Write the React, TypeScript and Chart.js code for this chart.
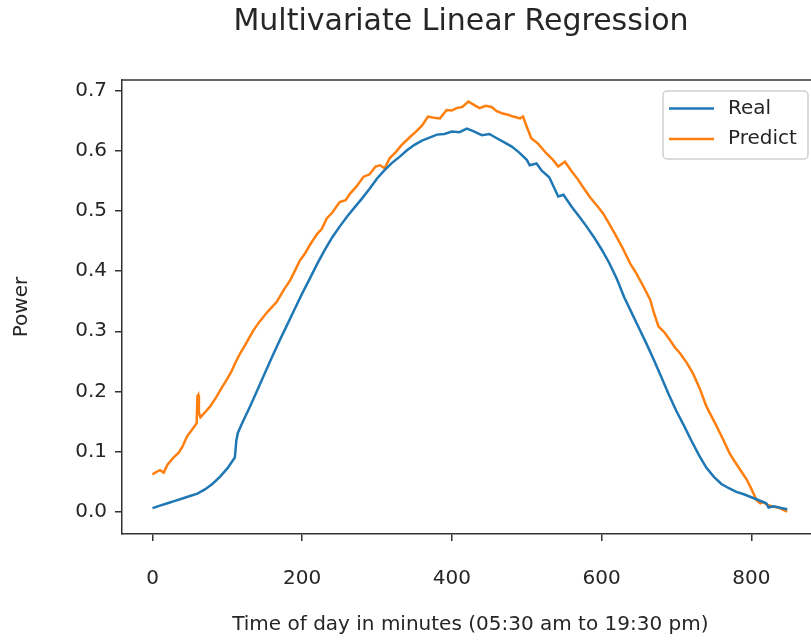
import React, { useEffect, useRef } from "react";
import { Chart, registerables } from "chart.js";

Chart.register(...registerables);

const TITLE = "Multivariate Linear Regression";
const X_LABEL = "Time of day in minutes (05:30 am to 19:30 pm)";
const Y_LABEL = "Power";
const SERIES_NAMES = ["Real", "Predict"];
const X_TICKS = [0, 200, 400, 600, 800];
const Y_TICKS = [0, 0.1, 0.2, 0.3, 0.4, 0.5, 0.6, 0.7];

const REAL_X = [
  0, 10, 20, 30, 40, 50, 60, 70, 80, 90, 100, 110, 112, 114, 120, 130, 140, 150, 160, 170,
  180, 190, 200, 210, 220, 230, 240, 250, 260, 270, 280, 290, 300, 310, 320, 330, 340, 350,
  360, 370, 380, 390, 400, 410, 420, 430, 440, 450, 460, 470, 480, 490, 500, 504, 513, 520,
  530, 538, 542, 549, 560, 570, 580, 590, 600, 610, 620, 630, 640, 650, 660, 670, 680, 690,
  700, 710, 720, 730, 740, 750, 760, 770, 780, 790, 800, 810, 820, 823, 830, 840, 848,
];
const REAL_Y = [
  0.006, 0.010, 0.014, 0.018, 0.022, 0.026, 0.030, 0.037, 0.046, 0.058, 0.072, 0.090, 0.118, 0.131,
  0.148, 0.174, 0.202, 0.230, 0.258, 0.285, 0.311, 0.337, 0.363, 0.387, 0.412, 0.435, 0.456, 0.474,
  0.491, 0.506, 0.521, 0.537, 0.554, 0.568, 0.580, 0.590, 0.601, 0.610, 0.617, 0.622, 0.627, 0.628,
  0.632, 0.631, 0.637, 0.632, 0.626, 0.628, 0.621, 0.614, 0.607, 0.597, 0.585, 0.576, 0.579, 0.567,
  0.556, 0.535, 0.524, 0.527, 0.507, 0.491, 0.474, 0.456, 0.436, 0.414, 0.388, 0.357, 0.331, 0.305,
  0.279, 0.252, 0.223, 0.194, 0.167, 0.143, 0.118, 0.094, 0.073, 0.058, 0.046, 0.039, 0.033, 0.029,
  0.024, 0.019, 0.014, 0.007, 0.009, 0.006, 0.004,
];

const PRED_X = [
  0, 5, 10, 15, 20, 28, 35, 40, 46, 52, 59, 60, 61, 62, 64, 70, 77, 85, 92, 99, 105, 110, 117,
  125, 135, 143, 152, 158, 166, 175, 184, 190, 197, 203, 210, 220, 226, 233, 240, 250, 258, 264,
  272, 282, 290, 298, 304, 310, 317, 325, 333, 344, 352, 360, 368, 376, 384, 393, 400, 406, 414,
  422, 430, 437, 445, 453, 460, 468, 475, 482, 491, 495, 500, 506, 515, 526, 535, 542, 551, 560,
  568, 575, 585, 595, 602, 610, 620, 629, 638, 646, 656, 665, 670, 676, 684, 691, 698, 705, 714,
  722, 731, 740, 747, 754, 762, 771, 778, 786, 794, 800, 807, 812, 816, 820, 825, 830, 838, 844,
  848,
];
const PRED_Y = [
  0.062, 0.066, 0.069, 0.065, 0.078, 0.090, 0.098, 0.108, 0.125, 0.135, 0.147, 0.192, 0.194, 0.165,
  0.157, 0.165, 0.175, 0.190, 0.205, 0.219, 0.232, 0.246, 0.263, 0.280, 0.302, 0.316, 0.330, 0.338,
  0.349, 0.368, 0.385, 0.400, 0.418, 0.428, 0.443, 0.462, 0.470, 0.488, 0.497, 0.515, 0.518, 0.529,
  0.540, 0.557, 0.561, 0.574, 0.576, 0.571, 0.588, 0.598, 0.610, 0.623, 0.632, 0.642, 0.657, 0.655,
  0.654, 0.668, 0.667, 0.671, 0.673, 0.682, 0.676, 0.671, 0.675, 0.673, 0.666, 0.662, 0.660, 0.657,
  0.654, 0.657, 0.640, 0.621, 0.612, 0.596, 0.585, 0.574, 0.582, 0.566, 0.553, 0.540, 0.522, 0.507,
  0.496, 0.479, 0.457, 0.436, 0.413, 0.397, 0.374, 0.352, 0.330, 0.308, 0.298, 0.286, 0.273, 0.263,
  0.247, 0.230, 0.205, 0.175, 0.158, 0.141, 0.121, 0.097, 0.083, 0.068, 0.053, 0.038, 0.019, 0.014,
  0.016, 0.012, 0.010, 0.008, 0.006, 0.002, 0.000,
];

const BLUE = "#1f77b4";
const ORANGE = "#ff7f0e";
const COLORS = [BLUE, ORANGE];
const FONT = "'DejaVu Sans', sans-serif";
const TEXT = "#262626";
const SPINE = "#333333";

const decorPlugin = {
  id: "decor",
  afterDraw(chart: any) {
    const { ctx, chartArea: a } = chart;
    ctx.save();
    // top/right spines
    ctx.strokeStyle = SPINE;
    ctx.lineWidth = 1.5;
    ctx.beginPath();
    ctx.moveTo(a.left, a.top);
    ctx.lineTo(a.right, a.top);
    ctx.lineTo(a.right, a.bottom);
    ctx.stroke();

    // title
    ctx.fillStyle = TEXT;
    ctx.font = `30px ${FONT}`;
    ctx.textAlign = "center";
    ctx.textBaseline = "alphabetic";
    ctx.fillText(TITLE, a.left + 339, 30);

    // legend
    const bx = 663, by = 91, bw = 145, bh = 68, r = 4;
    ctx.beginPath();
    ctx.moveTo(bx + r, by);
    ctx.lineTo(bx + bw - r, by);
    ctx.arcTo(bx + bw, by, bx + bw, by + r, r);
    ctx.lineTo(bx + bw, by + bh - r);
    ctx.arcTo(bx + bw, by + bh, bx + bw - r, by + bh, r);
    ctx.lineTo(bx + r, by + bh);
    ctx.arcTo(bx, by + bh, bx, by + bh - r, r);
    ctx.lineTo(bx, by + r);
    ctx.arcTo(bx, by, bx + r, by, r);
    ctx.closePath();
    ctx.fillStyle = "rgba(255,255,255,0.8)";
    ctx.fill();
    ctx.strokeStyle = "#d0d0d0";
    ctx.lineWidth = 1.5;
    ctx.stroke();

    const rows = [108.5, 139];
    SERIES_NAMES.forEach((name, i) => {
      ctx.strokeStyle = COLORS[i];
      ctx.lineWidth = 2.5;
      ctx.beginPath();
      ctx.moveTo(669, rows[i]);
      ctx.lineTo(714, rows[i]);
      ctx.stroke();
      ctx.fillStyle = TEXT;
      ctx.font = `20px ${FONT}`;
      ctx.textAlign = "left";
      ctx.textBaseline = "middle";
      ctx.fillText(name, 728, rows[i]);
    });
    ctx.restore();
  },
};

export default function App() {
  const ref = useRef<HTMLCanvasElement | null>(null);

  useEffect(() => {
    if (!ref.current) return;
    const chart = new Chart(ref.current, {
      type: "line",
      data: {
        datasets: [
          {
            label: SERIES_NAMES[0],
            data: REAL_X.map((x, i) => ({ x, y: REAL_Y[i] })),
            borderColor: BLUE,
            backgroundColor: BLUE,
            borderWidth: 2.5,
            pointRadius: 0,
            tension: 0,
            fill: false,
          },
          {
            label: SERIES_NAMES[1],
            data: PRED_X.map((x, i) => ({ x, y: PRED_Y[i] })),
            borderColor: ORANGE,
            backgroundColor: ORANGE,
            borderWidth: 2.5,
            pointRadius: 0,
            tension: 0,
            fill: false,
          },
        ],
      },
      options: {
        responsive: false,
        animation: false,
        events: [],
        layout: { padding: { left: 0, right: 21.3, top: 80, bottom: 0 } },
        plugins: {
          legend: { display: false },
          title: { display: false },
          tooltip: { enabled: false },
        },
        scales: {
          x: {
            type: "linear",
            min: -40.75,
            max: 890,
            afterBuildTicks: (s: any) => {
              s.ticks = X_TICKS.map((v) => ({ value: v }));
            },
            afterFit: (s: any) => {
              s.height = 109;
            },
            ticks: {
              autoSkip: false,
              maxRotation: 0,
              padding: 26,
              color: TEXT,
              font: { family: FONT, size: 20 },
              callback: (v: any) => String(v),
            },
            grid: {
              display: true,
              drawOnChartArea: false,
              drawTicks: true,
              tickLength: 7,
              color: SPINE,
              lineWidth: 1.5,
            },
            border: { display: true, color: SPINE, width: 1.5 },
            title: {
              display: true,
              text: X_LABEL,
              color: TEXT,
              font: { family: FONT, size: 20 },
              padding: { top: 0, bottom: 6 },
            },
          },
          y: {
            type: "linear",
            min: -0.0371,
            max: 0.7178,
            afterBuildTicks: (s: any) => {
              s.ticks = Y_TICKS.map((v) => ({ value: v }));
            },
            afterFit: (s: any) => {
              s.width = 122;
            },
            ticks: {
              autoSkip: false,
              padding: 8,
              color: TEXT,
              font: { family: FONT, size: 20 },
              callback: (v: any) => Number(v).toFixed(1),
            },
            grid: {
              display: true,
              drawOnChartArea: false,
              drawTicks: true,
              tickLength: 7,
              color: SPINE,
              lineWidth: 1.5,
            },
            border: { display: true, color: SPINE, width: 1.5 },
            title: {
              display: true,
              text: Y_LABEL,
              color: TEXT,
              font: { family: FONT, size: 20 },
              padding: { top: 10, bottom: 0 },
            },
          },
        },
      },
      plugins: [decorPlugin],
    } as any);
    return () => chart.destroy();
  }, []);

  return (
    <div
      style={{
        position: "fixed",
        left: 0,
        top: 0,
        width: 811,
        height: 643,
        overflow: "hidden",
        background: "#ffffff",
      }}
    >
      <canvas ref={ref} width={840} height={643} style={{ display: "block", width: 840, height: 643 }} />
    </div>
  );
}
